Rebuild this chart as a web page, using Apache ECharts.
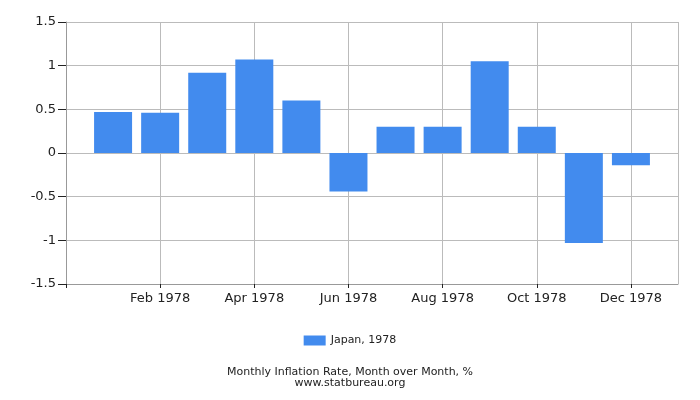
<!DOCTYPE html>
<html>
<head>
<meta charset="utf-8">
<script src="https://cdn.jsdelivr.net/npm/echarts@6/dist/echarts.min.js"></script>
<style>html,body{margin:0;padding:0;background:#fff}#c{width:700px;height:400px}</style>
</head>
<body>
<div id="c"></div>
<script>
const categories = ['Jan 1978','Feb 1978','Mar 1978','Apr 1978','May 1978','Jun 1978','Jul 1978','Aug 1978','Sep 1978','Oct 1978','Nov 1978','Dec 1978'];
const values = [0.47, 0.46, 0.92, 1.07, 0.60, -0.44, 0.30, 0.30, 1.05, 0.30, -1.03, -0.14];
const seriesName = 'Japan, 1978';
const yTicks = { min: -1.5, max: 1.5, interval: 0.5 };

const axisCats = [''].concat(categories, ['']);
const seriesData = [null].concat(values, [null]);
const isEven = (i) => i > 0 && i < 13 && i % 2 === 0;

const chart = echarts.init(document.getElementById('c'), null, { renderer: 'canvas' });
chart.setOption({
  animation: false,
  backgroundColor: '#fff',
  textStyle: { fontFamily: 'DejaVu Sans' },
  grid: { left: 66, right: 22, top: 22, bottom: 116, containLabel: false },
  xAxis: {
    type: 'category',
    data: axisCats,
    boundaryGap: false,
    axisLine: { show: true, onZero: false, lineStyle: { color: '#999', width: 1 } },
    axisTick: { show: true, length: 4, interval: (i) => i === 0 || isEven(i), lineStyle: { color: '#222' } },
    axisLabel: { interval: (i) => isEven(i), color: '#222', fontSize: 13, margin: 8 },
    splitLine: { show: true, interval: (i) => isEven(i) || i === 13, lineStyle: { color: '#bbb', width: 1 } }
  },
  yAxis: {
    type: 'value',
    min: yTicks.min, max: yTicks.max, interval: yTicks.interval,
    axisLine: { show: true, lineStyle: { color: '#999' } },
    axisTick: { show: true, length: 8, lineStyle: { color: '#222' } },
    axisLabel: { color: '#222', fontSize: 13, margin: 10 },
    splitLine: { show: true, lineStyle: { color: '#bbb', width: 1 } }
  },
  legend: {
    show: true,
    bottom: 49,
    left: 'center',
    itemWidth: 22, itemHeight: 10, itemGap: 4,
    icon: 'rect',
    textStyle: { color: '#222', fontSize: 11, fontFamily: 'DejaVu Sans' },
    data: [seriesName]
  },
  title: {
    text: 'Monthly Inflation Rate, Month over Month, %\nwww.statbureau.org',
    left: 'center',
    top: 362,
    textStyle: { color: '#222', fontSize: 11, fontWeight: 'normal', lineHeight: 11, fontFamily: 'DejaVu Sans' }
  },
  series: [{
    name: seriesName,
    type: 'bar',
    data: seriesData,
    barWidth: 38,
    itemStyle: { color: '#428BEE' }
  }]
});
</script>
</body>
</html>
